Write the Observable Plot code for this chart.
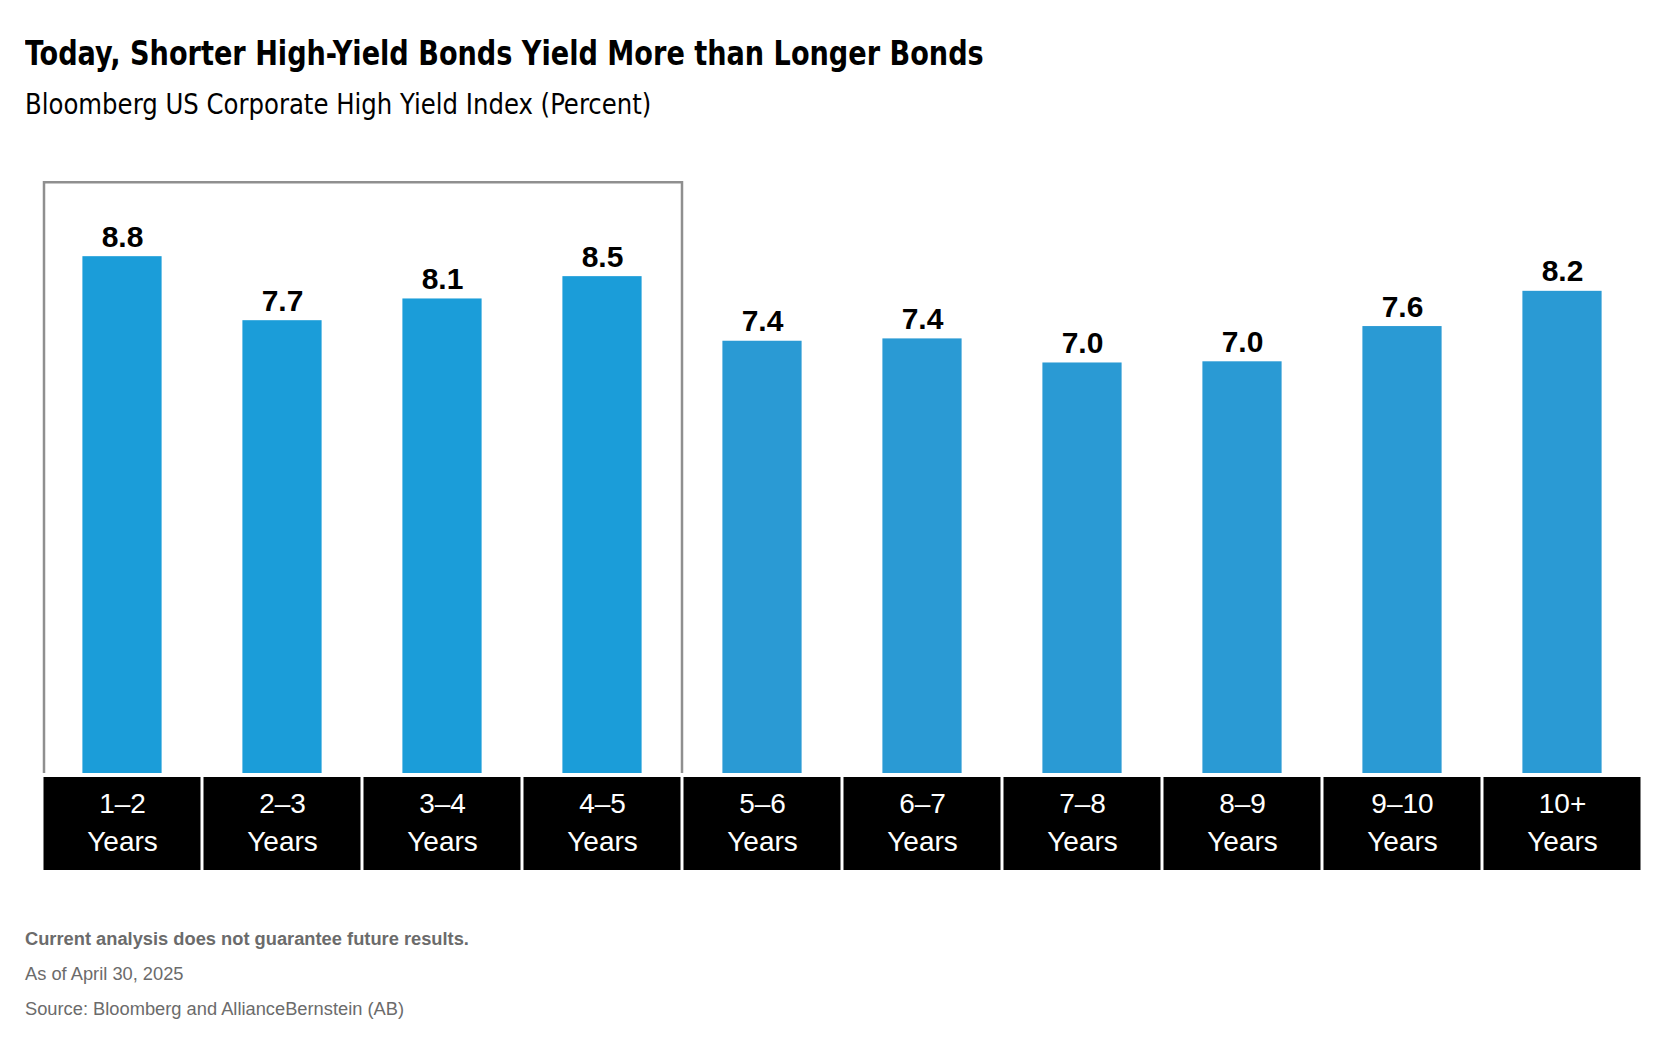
<!DOCTYPE html>
<html>
<head>
<meta charset="utf-8">
<script src="https://cdn.jsdelivr.net/npm/d3@7"></script>
<script src="https://cdn.jsdelivr.net/npm/@observablehq/plot@0.6"></script>
<style>
  html, body { margin: 0; padding: 0; background: #fff; }
  body { width: 1672px; height: 1062px; position: relative; overflow: hidden; }
  .t { position: absolute; left: 25px; white-space: nowrap; line-height: 1; transform-origin: 0 0; }
  #title { top: 36px; font-family: "Liberation Sans Narrow", "DejaVu Sans Condensed", sans-serif; font-weight: 700; font-size: 34px; color: #000; transform: scaleX(0.887); }
  #subtitle { top: 90px; font-family: "Liberation Sans Narrow", "DejaVu Sans Condensed", sans-serif; font-weight: 400; font-size: 29px; color: #000; transform: scaleX(0.935); }
  #chart { position: absolute; left: 0; top: 140px; }
  .foot { font-family: "Liberation Sans", Arial, sans-serif; font-size: 18.3px; color: #6b6b6b; }
  #f1 { top: 930px; font-weight: 700; }
  #f2 { top: 965px; }
  #f3 { top: 1000px; }
</style>
</head>
<body>
<div id="title" class="t">Today, Shorter High-Yield Bonds Yield More than Longer Bonds</div>
<div id="subtitle" class="t">Bloomberg US Corporate High Yield Index (Percent)</div>
<div id="chart"></div>
<div id="f1" class="t foot">Current analysis does not guarantee future results.</div>
<div id="f2" class="t foot">As of April 30, 2025</div>
<div id="f3" class="t foot">Source: Bloomberg and AllianceBernstein (AB)</div>
<script>
// ---- data ----
const categories = ["1–2", "2–3", "3–4", "4–5", "5–6", "6–7", "7–8", "8–9", "9–10", "10+"];
const yields = [8.80, 7.71, 8.08, 8.46, 7.36, 7.40, 6.99, 7.01, 7.61, 8.21];
const valueLabels = ["8.8", "7.7", "8.1", "8.5", "7.4", "7.4", "7.0", "7.0", "7.6", "8.2"];
const highlighted = ["1–2", "2–3", "3–4", "4–5"];
const unitLabel = "Years";
const yDomain = [0, 10.08];

const data = categories.map((c, i) => ({
  cat: c,
  value: yields[i],
  label: valueLabels[i],
  hl: highlighted.includes(c)
}));
const highlightBox = [{x1: highlighted[0], x2: highlighted[highlighted.length - 1]}];

const chart = Plot.plot({
  width: 1672,
  height: 737,
  marginTop: 41,
  marginBottom: 104,
  marginLeft: 37.5,
  marginRight: 25.5,
  style: {fontFamily: "'Liberation Sans', Arial, sans-serif", background: "transparent", overflow: "visible"},
  x: {domain: categories, padding: 0, axis: null},
  y: {domain: yDomain, axis: null},
  marks: [
    // highlight box around the first four maturities (open at the bottom)
    Plot.rect(highlightBox, {
      x1: "x1", x2: "x2",
      fill: "none", stroke: "#8f8f8f", strokeWidth: 2.5,
      insetLeft: 2, insetRight: 0, insetTop: 1.25, insetBottom: -8,
      clip: true
    }),
    // bars
    Plot.barY(data, {
      x: "cat", y: "value",
      fill: d => d.hl ? "#1b9dd9" : "#2a9ad4",
      insetLeft: 40.4, insetRight: 40.4
    }),
    // value labels
    Plot.text(data, {
      x: "cat", y: "value", text: "label",
      lineAnchor: "bottom", dy: -10,
      fontSize: 30, fontWeight: 700, fill: "#000"
    }),
    // black category label cells
    Plot.barY(categories, {
      x: d => d, y1: 0, y2: 0,
      fill: "#000",
      insetTop: 4, insetBottom: -97, insetLeft: 1.5, insetRight: 1.5
    }),
    // category axis labels
    Plot.axisX({
      tickSize: 0, tickPadding: 13,
      tickFormat: d => `${d}\n${unitLabel}`,
      fontSize: 28, lineHeight: 1.34, fill: "#fff",
      label: null
    })
  ]
});
document.getElementById("chart").appendChild(chart);
</script>
</body>
</html>
